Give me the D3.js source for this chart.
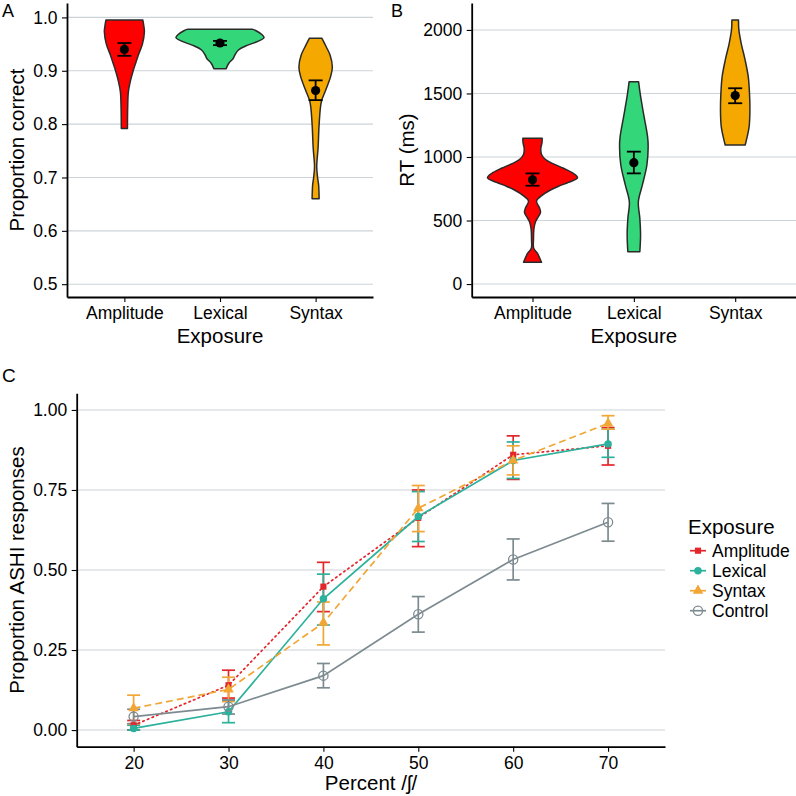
<!DOCTYPE html>
<meta charset="utf-8">
<head>
  <title>Exposure results</title>
</head>

<style>
body { margin: 0; background: #fff; }
text { font-family: "Liberation Sans", Arial, Helvetica, sans-serif; fill: #000; }
</style>

<body>
  <svg width="796" height="796"></svg>

  <script src="https://cdnjs.cloudflare.com/ajax/libs/d3/7.8.5/d3.min.js"></script>

  <script>
var exposures = ['Amplitude', 'Lexical', 'Syntax']
var violinFill = ['#ff0000', '#34d67a', '#f5a800']

// panel A - proportion correct
var accTicks = [0.5, 0.6, 0.7, 0.8, 0.9, 1.0]
var accMean = [0.940, 0.952, 0.863]
var accLow = [0.928, 0.948, 0.845]
var accHigh = [0.952, 0.956, 0.882]
// violin outlines: [value, relative half width]
var accAmplitude = [[0.995, 0.42], [0.985, 0.44], [0.973, 0.455], [0.95, 0.41], [0.93, 0.32], [0.915, 0.26],
  [0.90, 0.2], [0.88, 0.135], [0.86, 0.09], [0.83, 0.075], [0.80, 0.07], [0.792, 0.07]]
var accLexical = [[0.978, 0.73], [0.975, 0.82], [0.968, 0.95], [0.962, 1.0], [0.955, 0.86], [0.948, 0.63],
  [0.939, 0.42], [0.93, 0.34], [0.923, 0.3], [0.914, 0.2], [0.904, 0.14]]
var accSyntax = [[0.961, 0.14], [0.945, 0.24], [0.929, 0.33], [0.907, 0.38], [0.889, 0.34], [0.864, 0.23],
  [0.842, 0.13], [0.80, 0.08], [0.757, 0.057], [0.72, 0.025], [0.70, 0.045], [0.686, 0.068], [0.66, 0.08]]

// panel B - reaction time
var rtTicks = [0, 500, 1000, 1500, 2000]
var rtMean = [820, 955, 1483]
var rtLow = [774, 871, 1423]
var rtHigh = [871, 1042, 1541]
var rtAmplitude = [[1147, 0.215], [1110, 0.21], [1068, 0.185], [1020, 0.2], [980, 0.29], [950, 0.44], [911, 0.69],
  [870, 0.91], [835, 1.0], [800, 0.8], [770, 0.58], [740, 0.4], [700, 0.22], [653, 0.09], [600, 0.155],
  [564, 0.178], [530, 0.13], [491, 0.067], [438, 0.033], [350, 0.022], [281, 0.027], [241, 0.11], [171, 0.2]]
var rtLexical = [[1593, 0.105], [1488, 0.145], [1331, 0.22], [1160, 0.305], [1081, 0.318], [937, 0.29],
  [780, 0.19], [648, 0.1], [517, 0.133], [386, 0.149], [254, 0.133]]
var rtSyntax = [[2079, 0.073], [2000, 0.082], [1895, 0.133], [1764, 0.22], [1632, 0.29], [1501, 0.318],
  [1370, 0.327], [1239, 0.31], [1160, 0.267], [1094, 0.222]]

// panel C - identification curves
var percents = [20, 30, 40, 50, 60, 70]
var percentTicks = [20, 30, 40, 50, 60, 70]
var propTicks = [0, 0.25, 0.5, 0.75, 1.0]
var seriesNames = ['Amplitude', 'Lexical', 'Syntax', 'Control']
var seriesColor = ['#e3262b', '#2bb19c', '#f2a635', '#7d8b91']
var ampMean = [0.015, 0.14, 0.448, 0.663, 0.86, 0.888]
var ampLow = [0.0, 0.10, 0.37, 0.573, 0.783, 0.828]
var ampHigh = [0.03, 0.187, 0.524, 0.75, 0.919, 0.945]
var lexMean = [0.005, 0.057, 0.41, 0.667, 0.842, 0.894]
var lexLow = [0.0, 0.023, 0.328, 0.589, 0.786, 0.852]
var lexHigh = [0.015, 0.094, 0.487, 0.745, 0.90, 0.94]
var synMean = [0.068, 0.127, 0.335, 0.693, 0.842, 0.958]
var synLow = [0.019, 0.089, 0.266, 0.62, 0.797, 0.94]
var synHigh = [0.109, 0.165, 0.40, 0.764, 0.888, 0.982]
var ctlMean = [0.042, 0.073, 0.17, 0.362, 0.533, 0.649]
var ctlLow = [0.02, 0.05, 0.132, 0.306, 0.469, 0.59]
var ctlHigh = [0.065, 0.094, 0.208, 0.417, 0.597, 0.708]

var FONT = '"Liberation Sans", Arial, Helvetica, sans-serif'
var gridColor = '#cdd4d7'
var svg = d3.select('svg')

function styleAxis(g) {
  g.attr('font-family', FONT).attr('font-size', 17.5)
  g.select('.domain').attr('stroke', '#000').attr('stroke-width', 1.8)
  g.selectAll('.tick line').attr('stroke', '#000').attr('stroke-width', 1.1)
  g.selectAll('.tick text').attr('fill', '#000')
}

function violinPanel(cfg) {
  var x = d3.scalePoint().domain(exposures).range(cfg.xr).padding(0.6)
  var y = d3.scaleLinear().domain(cfg.yd).range(cfg.yr)
  var w = d3.scaleLinear().domain([0, 1]).range([0, cfg.maxHalf])

  svg.append('g').selectAll('line').data(cfg.ticks).enter().append('line')
    .attr('x1', cfg.xr[0]).attr('x2', cfg.xr[1])
    .attr('y1', d => y(d)).attr('y2', d => y(d))
    .attr('stroke', gridColor).attr('stroke-width', 1.1)

  cfg.shapes.forEach(function(shape, i) {
    var cx = x(exposures[i])
    var area = d3.area().curve(d3.curveCatmullRom)
      .y(d => y(d[0]))
      .x0(d => cx - w(d[1]))
      .x1(d => cx + w(d[1]))
    svg.append('path').datum(shape).attr('d', area)
      .attr('fill', violinFill[i]).attr('stroke', '#2a2a2a').attr('stroke-width', 1.5)
      .attr('stroke-linejoin', 'round')
  })

  var eb = svg.append('g').attr('stroke', '#000').attr('stroke-width', 1.8)
  exposures.forEach(function(e, i) {
    var cx = x(e)
    eb.append('line').attr('x1', cx).attr('x2', cx).attr('y1', y(cfg.low[i])).attr('y2', y(cfg.high[i]))
    eb.append('line').attr('x1', cx - 7).attr('x2', cx + 7).attr('y1', y(cfg.low[i])).attr('y2', y(cfg.low[i]))
    eb.append('line').attr('x1', cx - 7).attr('x2', cx + 7).attr('y1', y(cfg.high[i])).attr('y2', y(cfg.high[i]))
    svg.append('circle').attr('cx', cx).attr('cy', y(cfg.mean[i])).attr('r', 4.6).attr('fill', '#000')
  })

  var ay = svg.append('g').attr('transform', 'translate(' + cfg.xr[0] + ',0)')
    .call(d3.axisLeft(y).tickValues(cfg.ticks).tickFormat(cfg.fmt).tickSize(5).tickSizeOuter(0).tickPadding(4.5))
  styleAxis(ay)
  var ax = svg.append('g').attr('transform', 'translate(0,' + cfg.yr[0] + ')')
    .call(d3.axisBottom(x).tickSize(5).tickSizeOuter(0).tickPadding(4.5))
  styleAxis(ax)

  svg.append('text').attr('x', (cfg.xr[0] + cfg.xr[1]) / 2).attr('y', 343)
    .attr('text-anchor', 'middle').attr('font-size', 20.5).text('Exposure')
  svg.append('text').attr('transform', 'translate(' + cfg.titleX + ',' + (cfg.yr[0] + cfg.yr[1]) / 2 + ') rotate(-90)')
    .attr('text-anchor', 'middle').attr('dy', '0.35em').attr('font-size', 20.5).text(cfg.title)
  svg.append('text').attr('x', cfg.labelX).attr('y', 17).attr('font-size', 18).text(cfg.label)
}

violinPanel({
  xr: [67, 373], yr: [297, 3], yd: [0.476, 1.027], maxHalf: 44,
  ticks: accTicks, fmt: d3.format('.1f'),
  shapes: [accAmplitude, accLexical, accSyntax],
  mean: accMean, low: accLow, high: accHigh,
  title: 'Proportion correct', titleX: 17, label: 'A', labelX: 2
})

violinPanel({
  xr: [471.7, 796], yr: [297, 3], yd: [-102, 2212], maxHalf: 45,
  ticks: rtTicks, fmt: d3.format('d'),
  shapes: [rtAmplitude, rtLexical, rtSyntax],
  mean: rtMean, low: rtLow, high: rtHigh,
  title: 'RT (ms)', titleX: 407, label: 'B', labelX: 391
})

// ---- panel C ----
var xC = d3.scaleLinear().domain([14, 76]).range([76.7, 665])
var yC = d3.scaleLinear().domain([-0.052, 1.052]).range([746.7, 393.3])

svg.append('g').selectAll('line').data(propTicks).enter().append('line')
  .attr('x1', 76.7).attr('x2', 665)
  .attr('y1', d => yC(d)).attr('y2', d => yC(d))
  .attr('stroke', gridColor).attr('stroke-width', 1.1)

var series = [
  {name: 'Amplitude', mean: ampMean, low: ampLow, high: ampHigh, dash: '1.5,3.5', shape: 'square'},
  {name: 'Lexical', mean: lexMean, low: lexLow, high: lexHigh, dash: null, shape: 'dot'},
  {name: 'Syntax', mean: synMean, low: synLow, high: synHigh, dash: '7,4', shape: 'triangle'},
  {name: 'Control', mean: ctlMean, low: ctlLow, high: ctlHigh, dash: null, shape: 'open'}
]

function drawMarker(g, s, color, px, py) {
  if (s.shape === 'open') {
    g.append('circle').attr('cx', px).attr('cy', py).attr('r', 4.6)
      .attr('fill', 'none').attr('stroke', color).attr('stroke-width', 1.3)
    return
  }
  var type = s.shape === 'square' ? d3.symbolSquare : s.shape === 'triangle' ? d3.symbolTriangle : d3.symbolCircle
  var size = s.shape === 'square' ? 38 : s.shape === 'triangle' ? 48 : 44
  g.append('path').attr('d', d3.symbol().type(type).size(size)())
    .attr('transform', 'translate(' + px + ',' + py + ')').attr('fill', color)
}

series.forEach(function(s, i) {
  var color = seriesColor[i]
  var g = svg.append('g')
  percents.forEach(function(p, j) {
    var cx = xC(p)
    g.append('line').attr('x1', cx).attr('x2', cx).attr('y1', yC(s.low[j])).attr('y2', yC(s.high[j]))
      .attr('stroke', color).attr('stroke-width', 1.7)
    g.append('line').attr('x1', cx - 6.5).attr('x2', cx + 6.5).attr('y1', yC(s.low[j])).attr('y2', yC(s.low[j]))
      .attr('stroke', color).attr('stroke-width', 1.7)
    g.append('line').attr('x1', cx - 6.5).attr('x2', cx + 6.5).attr('y1', yC(s.high[j])).attr('y2', yC(s.high[j]))
      .attr('stroke', color).attr('stroke-width', 1.7)
  })
})

series.forEach(function(s, i) {
  var color = seriesColor[i]
  var line = d3.line().x((d, j) => xC(percents[j])).y(d => yC(d))
  svg.append('path').datum(s.mean).attr('d', line)
    .attr('fill', 'none').attr('stroke', color).attr('stroke-width', 1.7)
    .attr('stroke-dasharray', s.dash).attr('stroke-linecap', s.dash && s.shape === 'square' ? 'round' : 'butt')
  var g = svg.append('g')
  s.mean.forEach(function(v, j) { drawMarker(g, s, color, xC(percents[j]), yC(v)) })
})

var ayC = svg.append('g').attr('transform', 'translate(76.7,0)')
  .call(d3.axisLeft(yC).tickValues(propTicks).tickFormat(d3.format('.2f')).tickSize(5).tickSizeOuter(0).tickPadding(4.5))
styleAxis(ayC)
var axC = svg.append('g').attr('transform', 'translate(0,746.7)')
  .call(d3.axisBottom(xC).tickValues(percentTicks).tickFormat(d3.format('d')).tickSize(5).tickSizeOuter(0).tickPadding(4.5))
styleAxis(axC)

svg.append('text').attr('x', 371).attr('y', 790).attr('text-anchor', 'middle').attr('font-size', 20.5).text('Percent /ʃ/')
svg.append('text').attr('transform', 'translate(17,570) rotate(-90)')
  .attr('text-anchor', 'middle').attr('dy', '0.35em').attr('font-size', 20.5).text('Proportion ASHI responses')
svg.append('text').attr('x', 2).attr('y', 382).attr('font-size', 19).text('C')

// legend
var legend = svg.append('g').attr('transform', 'translate(688,0)')
legend.append('text').attr('x', 0).attr('y', 534).attr('font-size', 20.5).text('Exposure')
series.forEach(function(s, i) {
  var ly = 550.7 + i * 20
  legend.append('line').attr('x1', 2).attr('x2', 18).attr('y1', ly).attr('y2', ly)
    .attr('stroke', seriesColor[i]).attr('stroke-width', 1.7)
  drawMarker(legend, s, seriesColor[i], 10, ly)
  legend.append('text').attr('x', 24).attr('y', ly).attr('dy', '0.36em').attr('font-size', 17.5).text(s.name)
})
  </script>
</body>
</html>
